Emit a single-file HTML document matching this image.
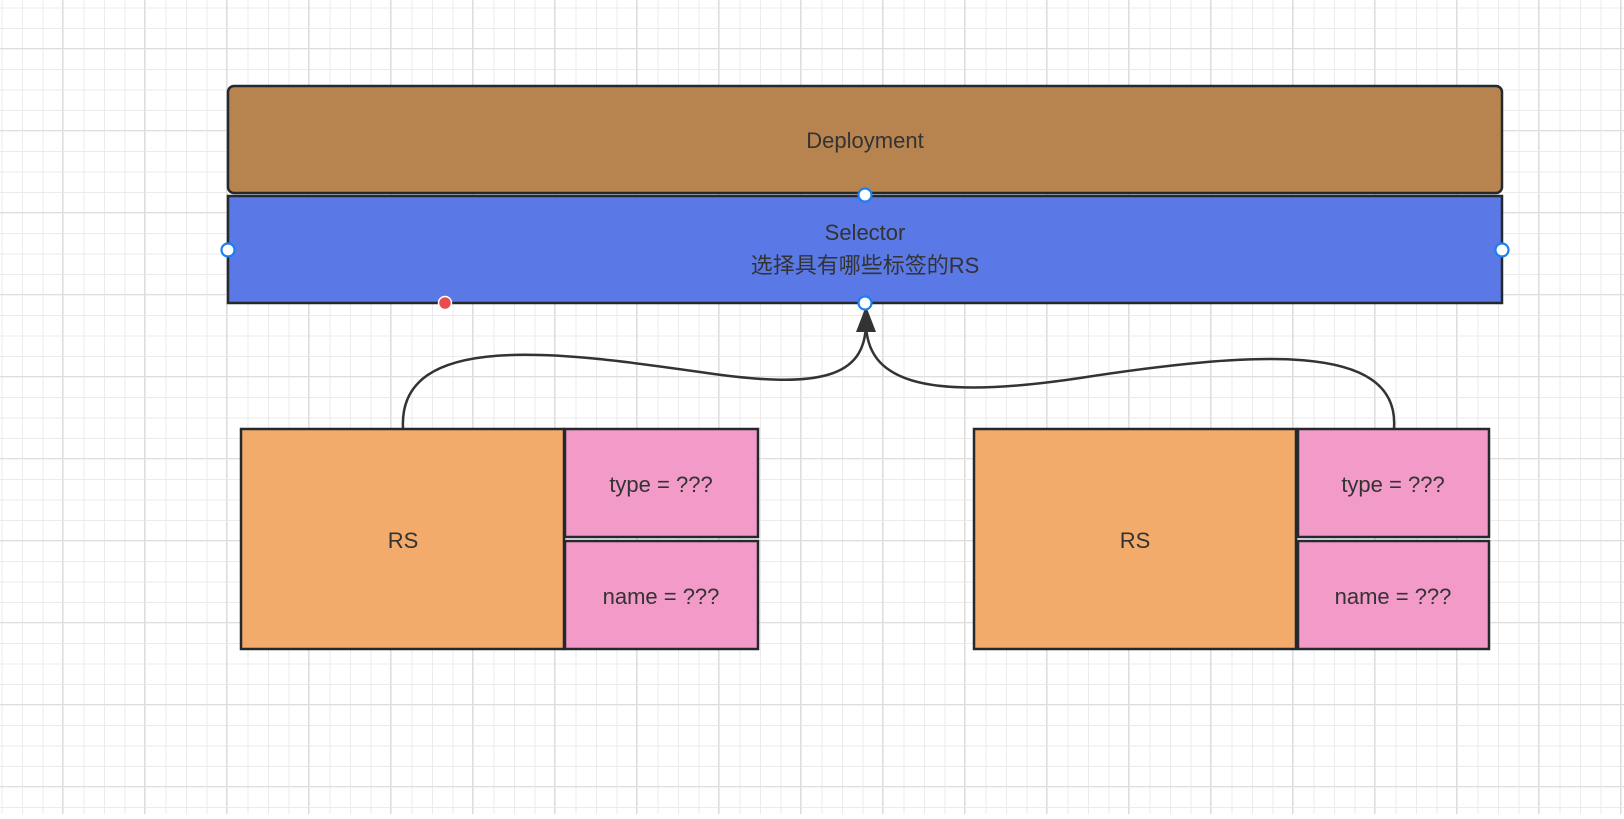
<!DOCTYPE html>
<html><head><meta charset="utf-8"><style>
body{margin:0;width:1624px;height:814px;overflow:hidden;background:#fff;font-family:"Liberation Sans","Noto Sans CJK SC",sans-serif;}
</style></head><body>
<svg width="1624" height="814" xmlns="http://www.w3.org/2000/svg">
<defs>
<pattern id="minor" x="1.5" y="7.5" width="20.5" height="20.5" patternUnits="userSpaceOnUse"><path d="M0 0H20.5M0 0V20.5" stroke="#ebebeb" stroke-width="2" fill="none"/></pattern>
<pattern id="major" x="62" y="48" width="82" height="82" patternUnits="userSpaceOnUse"><path d="M0 0H82M0 0V82" stroke="#dedede" stroke-width="2" fill="none"/></pattern>
</defs>
<rect width="1624" height="814" fill="url(#minor)"/>
<rect width="1624" height="814" fill="url(#major)"/>
<rect x="228" y="86" width="1274" height="107" rx="6" fill="#b7834f" stroke="#24292e" stroke-width="2.5"/>
<text x="865" y="148" font-size="22" text-anchor="middle" fill="#333">Deployment</text>
<rect x="228" y="196" width="1274" height="107" fill="#5a78e6" stroke="#24292e" stroke-width="2.5"/>
<text x="865" y="240" font-size="22" text-anchor="middle" fill="#333">Selector</text>
<text x="865" y="273" font-size="22" text-anchor="middle" fill="#333">选择具有哪些标签的RS</text>
<g fill="none" stroke="#333" stroke-width="2.5">
<path d="M403,428 C398,330 560,352 700,372 C820,390 866,378 866,322"/>
<path d="M1394,428 C1400,340 1250,352 1080,378 C920,402 866,380 866,322"/>
</g>
<path d="M866,306 L856,332 L876,332 Z" fill="#333"/>
<g stroke="#24292e" stroke-width="2.5">
<rect x="241" y="429" width="323" height="220" fill="#f2ab6a"/>
<rect x="565" y="429" width="193" height="108" fill="#f29ac8"/>
<rect x="565" y="541" width="193" height="108" fill="#f29ac8"/>
<rect x="974" y="429" width="322" height="220" fill="#f2ab6a"/>
<rect x="1298" y="429" width="191" height="108" fill="#f29ac8"/>
<rect x="1298" y="541" width="191" height="108" fill="#f29ac8"/>
</g>
<g font-size="22" text-anchor="middle" fill="#333">
<text x="403" y="548">RS</text>
<text x="661" y="492">type = ???</text>
<text x="661" y="604">name = ???</text>
<text x="1135" y="548">RS</text>
<text x="1393" y="492">type = ???</text>
<text x="1393" y="604">name = ???</text>
</g>
<g fill="#fff" stroke="#1a7ff0" stroke-width="2.2">
<circle cx="865" cy="195" r="6.5"/>
<circle cx="228" cy="250" r="6.5"/>
<circle cx="1502" cy="250" r="6.5"/>
<circle cx="865" cy="303" r="6.5"/>
</g>
<circle cx="445" cy="303" r="6.5" fill="#e84c4c" stroke="#fff" stroke-width="1.5"/>
</svg>
</body></html>
